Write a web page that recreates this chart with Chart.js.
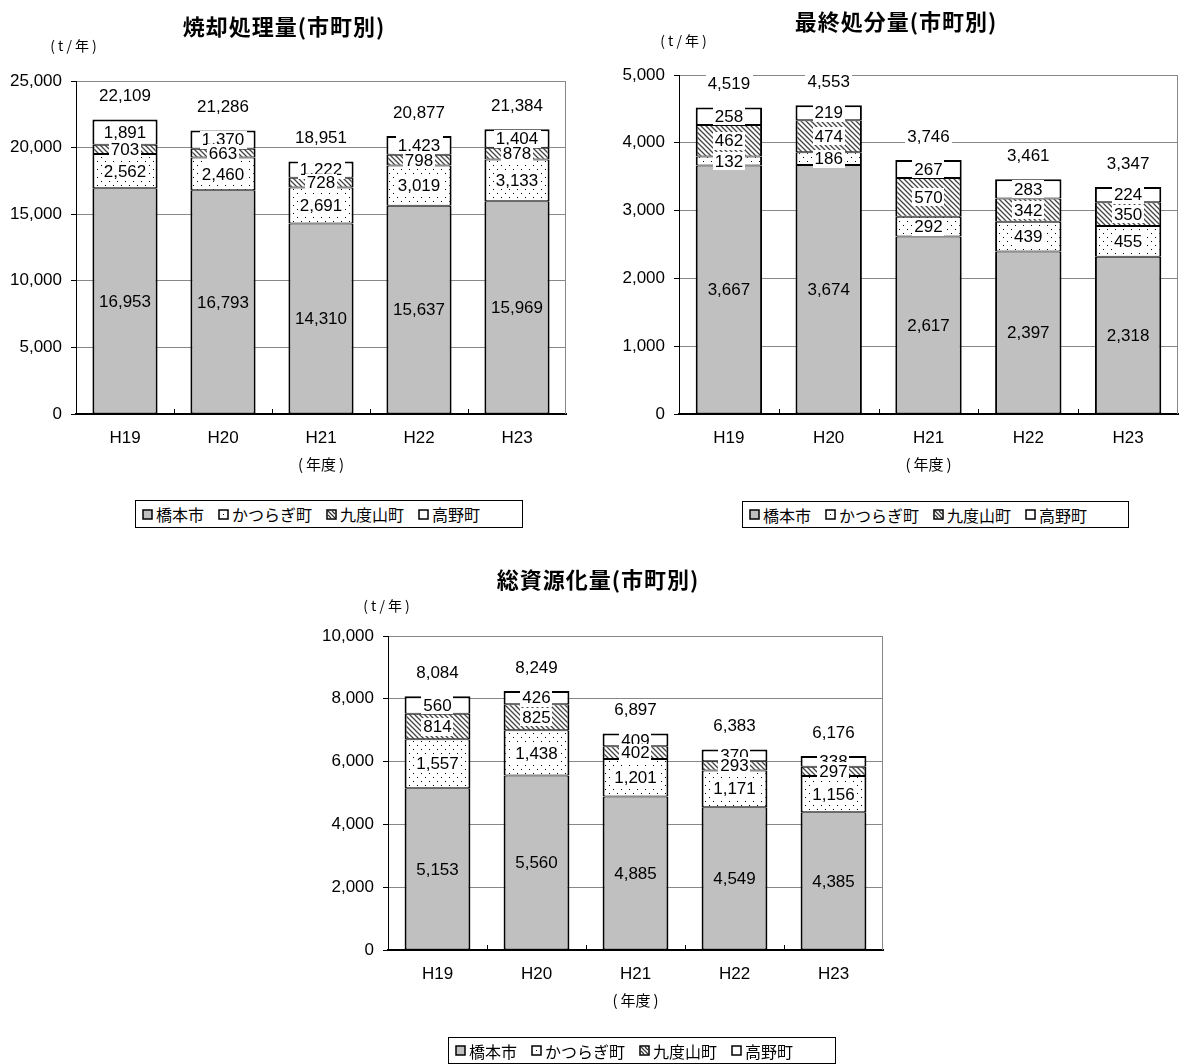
<!DOCTYPE html>
<html>
<head>
<meta charset="utf-8">
<script src="https://cdn.jsdelivr.net/npm/chart.js@4.4.1/dist/chart.umd.min.js"></script>
<style>
  body { margin: 0; background: #fff; width: 1179px; height: 1064px; position: relative; overflow: hidden;
         font-family: "Noto Sans CJK JP", sans-serif; color: #000; }
  canvas.chart { position: absolute; }
  .title { position: absolute; font-size: 22px; font-weight: bold; letter-spacing: 1px;
           transform: translate(-50%, -50%); white-space: nowrap; }
  .unit { position: absolute; font-size: 14px; letter-spacing: 3px; transform: translate(-50%, -50%); white-space: nowrap; }
  .legend { position: absolute; border: 1px solid #000; box-sizing: border-box; display: flex; align-items: center;
            padding-left: 6px; font-size: 16px; white-space: nowrap; }
  .item { display: flex; align-items: center; margin-right: 14px; }
  .item canvas { margin-right: 3px; }
</style>
</head>
<body>
<canvas id="c1" class="chart" width="590" height="490" style="left:0;top:0"></canvas>
<canvas id="c2" class="chart" width="589" height="490" style="left:590px;top:0"></canvas>
<canvas id="c3" class="chart" width="600" height="524" style="left:300px;top:540px"></canvas>

<div class="title" style="left:284px;top:25px">焼却処理量(市町別)</div>
<div class="unit" style="left:75px;top:45px">(t/年)</div>
<div class="title" style="left:896px;top:20px">最終処分量(市町別)</div>
<div class="unit" style="left:685px;top:40px">(t/年)</div>
<div class="title" style="left:598px;top:578px">総資源化量(市町別)</div>
<div class="unit" style="left:388px;top:605px">(t/年)</div>

<div class="legend" id="lg1" style="left:135px;top:500px;width:388px;height:28px"></div>
<div class="legend" id="lg2" style="left:742px;top:501px;width:387px;height:27px"></div>
<div class="legend" id="lg3" style="left:448px;top:1037px;width:388px;height:27px"></div>

<script>
// Fiscal years and municipalities
const years = ['H19', 'H20', 'H21', 'H22', 'H23'];
const towns = ['橋本市', 'かつらぎ町', '九度山町', '高野町'];
const yearAxisTitle = '(\u2009年度\u2009)';

// 焼却処理量 (t/年)
const incHashimoto = [16953, 16793, 14310, 15637, 15969];
const incKatsuragi = [2562, 2460, 2691, 3019, 3133];
const incKudoyama  = [703, 663, 728, 798, 878];
const incKoya      = [1891, 1370, 1222, 1423, 1404];
const incAxis = { max: 25000, step: 5000 };

// 最終処分量 (t/年)
const landHashimoto = [3667, 3674, 2617, 2397, 2318];
const landKatsuragi = [132, 186, 292, 439, 455];
const landKudoyama  = [462, 474, 570, 342, 350];
const landKoya      = [258, 219, 267, 283, 224];
const landAxis = { max: 5000, step: 1000 };

// 総資源化量 (t/年)
const recHashimoto = [5153, 5560, 4885, 4549, 4385];
const recKatsuragi = [1557, 1438, 1201, 1171, 1156];
const recKudoyama  = [814, 825, 402, 293, 297];
const recKoya      = [560, 426, 409, 370, 338];
const recAxis = { max: 10000, step: 2000 };

const NUM_FONT = '"Liberation Sans", Arial, sans-serif';
const JP_FONT = '"Noto Sans CJK JP", sans-serif';
const NUM_SIZE = 17;
const fmt = v => v.toLocaleString('en-US');

// Fill patterns
function tile(size, paint) {
  const c = document.createElement('canvas');
  c.width = size; c.height = size;
  const g = c.getContext('2d');
  g.fillStyle = '#fff';
  g.fillRect(0, 0, size, size);
  paint(g);
  return c;
}
function dotTile() {
  return tile(8, g => {
    g.fillStyle = '#000';
    g.fillRect(1, 1, 1, 1);
    g.fillRect(5, 5, 1, 1);
  });
}
function hatchTile() {
  return tile(5, g => {
    g.strokeStyle = '#444';
    g.lineWidth = 1.3;
    g.beginPath();
    g.moveTo(-1, -1); g.lineTo(6, 6);
    g.moveTo(-1, 4); g.lineTo(1, 6);
    g.moveTo(4, -1); g.lineTo(6, 1);
    g.stroke();
  });
}
const ctx0 = document.createElement('canvas').getContext('2d');
const fills = [
  '#c0c0c0',
  ctx0.createPattern(dotTile(), 'repeat'),
  ctx0.createPattern(hatchTile(), 'repeat'),
  '#ffffff'
];

// Legend swatches
function swatch(fill) {
  const c = document.createElement('canvas');
  c.width = 11; c.height = 11;
  const g = c.getContext('2d');
  g.fillStyle = '#fff';
  g.fillRect(0, 0, 11, 11);
  if (fill === fills[1]) {
    g.fillStyle = '#000';
    g.fillRect(5, 5, 1, 1);
  } else if (fill === fills[2]) {
    g.strokeStyle = '#333'; g.lineWidth = 1.2;
    g.beginPath(); g.moveTo(2, 2); g.lineTo(9, 9); g.moveTo(2, 6); g.lineTo(5, 9); g.moveTo(6, 2); g.lineTo(9, 5); g.stroke();
  } else {
    g.fillStyle = fill;
    g.fillRect(1, 1, 9, 9);
  }
  g.strokeStyle = '#000'; g.lineWidth = 1.5;
  g.strokeRect(1, 1, 9, 9);
  return c;
}
function buildLegend(id) {
  const box = document.getElementById(id);
  towns.forEach((t, i) => {
    const it = document.createElement('span');
    it.className = 'item';
    it.appendChild(swatch(fills[i]));
    const s = document.createElement('span');
    s.textContent = t;
    it.appendChild(s);
    box.appendChild(it);
  });
}

// Plot frame (right edge) and inward category tick marks
const framePlugin = {
  id: 'frame',
  beforeDatasetsDraw(chart) {
    const { ctx, chartArea: a, scales: { x } } = chart;
    ctx.save();
    ctx.strokeStyle = '#888';
    ctx.lineWidth = 1;
    ctx.beginPath();
    ctx.moveTo(Math.round(a.right) - 0.5, a.top);
    ctx.lineTo(Math.round(a.right) - 0.5, a.bottom);
    ctx.stroke();
    ctx.strokeStyle = '#000';
    ctx.beginPath();
    for (let k = 1; k < x.ticks.length; k++) {
      const px = Math.round((x.getPixelForTick(k - 1) + x.getPixelForTick(k)) / 2) + 0.5;
      ctx.moveTo(px, a.bottom);
      ctx.lineTo(px, a.bottom - 5);
    }
    ctx.stroke();
    ctx.restore();
  }
};

// Segment values and stack totals; upper segments are labelled first so
// that the labels of lower segments sit on top where they overlap
function labelBox(ctx, txt, x, y) {
  const w = ctx.measureText(txt).width + 4;
  ctx.fillStyle = '#fff';
  ctx.fillRect(Math.round(x - w / 2), Math.round(y - 9), Math.round(w), 18);
}
const labelPlugin = {
  id: 'segLabels',
  afterDatasetsDraw(chart) {
    const { ctx } = chart;
    ctx.save();
    ctx.font = NUM_SIZE + 'px ' + NUM_FONT;
    ctx.textAlign = 'center';
    ctx.textBaseline = 'middle';
    const sets = chart.data.datasets;
    for (let i = sets.length - 1; i >= 0; i--) {
      chart.getDatasetMeta(i).data.forEach((el, j) => {
        const txt = fmt(sets[i].data[j]);
        const cy = (el.y + el.base) / 2;
        if (i > 0) labelBox(ctx, txt, el.x, cy);
        ctx.fillStyle = '#000';
        ctx.fillText(txt, el.x, cy + 1);
      });
    }
    const ys = chart.scales.y;
    chart.data.labels.forEach((_, j) => {
      const total = sets.reduce((s, d) => s + d.data[j], 0);
      const x = chart.getDatasetMeta(0).data[j].x;
      const y = ys.getPixelForValue(total) - 24;
      const txt = fmt(total);
      labelBox(ctx, txt, x, y);
      ctx.fillStyle = '#000';
      ctx.fillText(txt, x, y + 1);
    });
    ctx.restore();
  }
};

function makeChart(id, series, axis, geo) {
  const datasets = series.map((data, i) => ({
    label: towns[i],
    data: data,
    backgroundColor: fills[i],
    borderColor: '#000',
    borderWidth: { left: 2, right: 2, top: i === series.length - 1 ? 2 : 1, bottom: 1 },
    borderSkipped: false,
    barPercentage: 0.665,
    categoryPercentage: 1
  }));
  return new Chart(document.getElementById(id), {
    type: 'bar',
    data: { labels: years, datasets },
    options: {
      responsive: false,
      animation: false,
      layout: { padding: { top: geo.top, right: geo.right, bottom: geo.bottom, left: 0 } },
      plugins: { legend: { display: false }, tooltip: { enabled: false }, title: { display: false } },
      scales: {
        x: {
          stacked: true,
          grid: { display: false, drawTicks: false },
          border: { color: '#000', width: 2 },
          ticks: { padding: 14, color: '#000', font: { family: NUM_FONT, size: NUM_SIZE } },
          title: { display: true, text: yearAxisTitle, color: '#000',
                   font: { family: JP_FONT, size: 15 }, padding: { top: 0, bottom: 3 } },
          afterFit: s => { s.height = 62; }
        },
        y: {
          stacked: true,
          min: 0,
          max: axis.max,
          grid: { color: '#888', lineWidth: 1, tickColor: '#000', tickLength: 5, drawTicks: true },
          border: { color: '#000', width: 1 },
          ticks: { stepSize: axis.step, padding: 9, color: '#000',
                   font: { family: NUM_FONT, size: NUM_SIZE }, callback: v => fmt(v) },
          afterFit: s => { s.width = geo.axisWidth; }
        }
      }
    },
    plugins: [framePlugin, labelPlugin]
  });
}

makeChart('c1', [incHashimoto, incKatsuragi, incKudoyama, incKoya], incAxis,
  { top: 81, right: 24, bottom: 14, axisWidth: 76 });
makeChart('c2', [landHashimoto, landKatsuragi, landKudoyama, landKoya], landAxis,
  { top: 75, right: 1, bottom: 14, axisWidth: 89 });
makeChart('c3', [recHashimoto, recKatsuragi, recKudoyama, recKoya], recAxis,
  { top: 96, right: 17, bottom: 52, axisWidth: 88 });

buildLegend('lg1');
buildLegend('lg2');
buildLegend('lg3');
</script>
</body>
</html>
